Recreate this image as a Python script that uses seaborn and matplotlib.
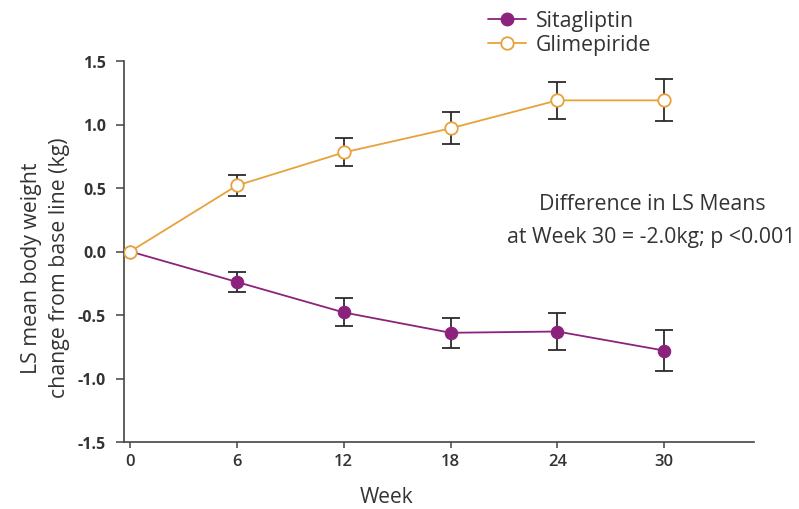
import pandas as pd
import numpy as np

import matplotlib
matplotlib.use('Agg')
import matplotlib.pyplot as plt
import seaborn as sns
from matplotlib.lines import Line2D

# values
weeks = [0, 6, 12, 18, 24, 30]
sitagliptin = [0.0, -0.24, -0.48, -0.64, -0.63, -0.78]
sitagliptin_err = [0.0, 0.08, 0.11, 0.12, 0.145, 0.16]
glimepiride = [0.0, 0.52, 0.78, 0.97, 1.19, 1.19]
glimepiride_err = [0.0, 0.085, 0.11, 0.125, 0.145, 0.165]

y_ticks = [-1.5, -1.0, -0.5, 0.0, 0.5, 1.0, 1.5]

purple = "#8b237d"
orange = "#e8a23a"
text_col = "#333333"

sns.set_style("ticks")
plt.rcParams['font.family'] = ['Open Sans', 'DejaVu Sans']

df = pd.DataFrame({
    "week": weeks * 2,
    "change": sitagliptin + glimepiride,
    "err": sitagliptin_err + glimepiride_err,
    "drug": ["Sitagliptin"] * len(weeks) + ["Glimepiride"] * len(weeks),
})

fig = plt.figure(figsize=(7.99, 5.10), dpi=100)
ax = fig.add_axes([124 / 799, 67 / 510, 630 / 799, 381 / 510])

# error bars first (baseline has none)
for name in ["Sitagliptin", "Glimepiride"]:
    sub = df[(df["drug"] == name) & (df["week"] > 0)]
    ax.errorbar(sub["week"], sub["change"], yerr=sub["err"], fmt="none",
                ecolor="#2b2b2b", elinewidth=1.3, capsize=6.5, capthick=1.3, zorder=2)

sns.lineplot(data=df[df["drug"] == "Sitagliptin"], x="week", y="change", ax=ax,
             color=purple, lw=1.3, marker="o", markersize=9,
             markerfacecolor=purple, markeredgecolor=purple, zorder=3)
sns.lineplot(data=df[df["drug"] == "Glimepiride"], x="week", y="change", ax=ax,
             color=orange, lw=1.3, marker="o", markersize=9,
             markerfacecolor="white", markeredgecolor=orange, markeredgewidth=1.3, zorder=4)

ax.set_xlim(-0.35, 35.05)
ax.set_ylim(-1.5, 1.5)
ax.set_xticks(weeks)
ax.set_yticks(y_ticks)
ax.set_yticklabels([f"{v:.1f}" for v in y_ticks])
ax.tick_params(axis="y", colors="#444444", labelcolor=text_col, labelsize=11.5,
               width=1.1, length=6, pad=7)
ax.tick_params(axis="x", colors="#444444", labelcolor=text_col, labelsize=12,
               width=1.1, length=4, pad=4)
for lab in ax.get_yticklabels():
    lab.set_fontweight("bold")
for lab in ax.get_xticklabels():
    lab.set_fontweight("semibold")

for s in ["top", "right"]:
    ax.spines[s].set_visible(False)
for s in ["left", "bottom"]:
    ax.spines[s].set_color("#444444")
    ax.spines[s].set_linewidth(1.2)

ax.set_xlabel("Week", fontsize=15, color=text_col)
ax.xaxis.set_label_coords(0.417, -0.115)
ax.set_ylabel("LS mean body weight\nchange from base line (kg)", fontsize=15.3,
              color=text_col, linespacing=1.45)
ax.yaxis.set_label_coords(-0.086, 0.459)

fig.text(652 / 799, 1 - 205 / 510, "Difference in LS Means", fontsize=15.3,
         color=text_col, ha="center", va="center")
fig.text(651 / 799, 1 - 238 / 510, "at Week 30 = -2.0kg; p <0.001", fontsize=15.3,
         color=text_col, ha="center", va="center")

handles = [
    Line2D([], [], color=purple, lw=1.3, marker="o", markersize=9,
           markerfacecolor=purple, markeredgecolor=purple),
    Line2D([], [], color=orange, lw=1.3, marker="o", markersize=9,
           markerfacecolor="white", markeredgecolor=orange, markeredgewidth=1.3),
]
fig.legend(handles, ["Sitagliptin", "Glimepiride"], loc="upper left",
           bbox_to_anchor=(469 / 799, 1.015), frameon=False, fontsize=15.3,
           handlelength=1.8, handletextpad=0.45, labelspacing=0.12,
           labelcolor=text_col)

plt.savefig("out.png", dpi=100)
plt.close()
